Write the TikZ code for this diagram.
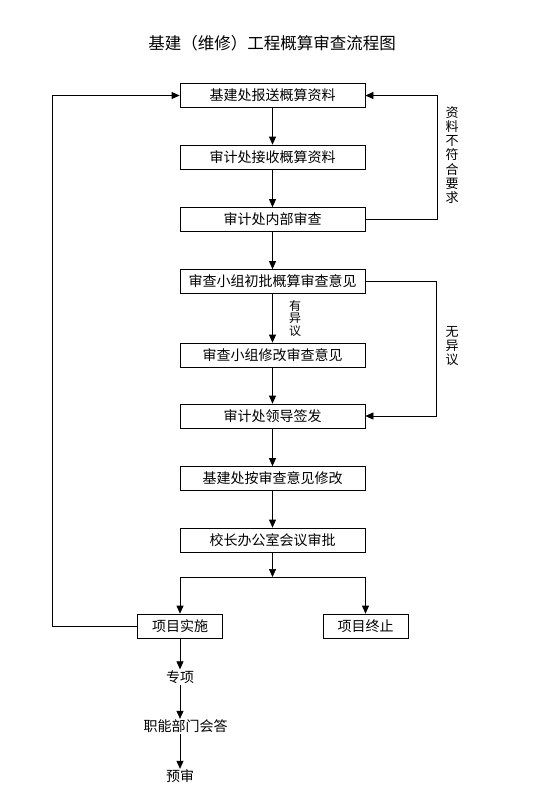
\documentclass[tikz,border=0pt]{standalone}
\usepackage{fontspec}
\setmainfont{Noto Sans CJK SC}
\usetikzlibrary{arrows.meta}
\tikzset{
  box/.style={draw, line width=0.7pt, minimum width=185pt, minimum height=24pt,
    inner sep=0pt, font=\fontsize{14}{15}\selectfont},
  smallbox/.style={box, minimum width=85pt},
  plain/.style={inner sep=1pt, font=\fontsize{14}{15}\selectfont},
  arr/.style={-{Triangle[length=8pt,width=7pt]}, line width=0.7pt},
  vlabel/.style={align=center, inner sep=0pt, font=\fontsize{13}{14.3}\selectfont}
}
\begin{document}
\begin{tikzpicture}[x=1pt,y=-1pt]
        \useasboundingbox (0,0) rectangle (544,811);
        \node[inner sep=0pt, font=\fontsize{16.5}{18}\selectfont] (title) at (272,43) {基建（维修）工程概算审查流程图};
        % main column
        \node[box] (send) at (272.5,95.5) {基建处报送概算资料};
        \node[box] (recv) at (272.5,157) {审计处接收概算资料};
        \node[box] (inner) at (272.5,219.5) {审计处内部审查};
        \node[box] (first) at (272.5,281.5) {审查小组初批概算审查意见};
        \node[box] (modify) at (272.5,355) {审查小组修改审查意见};
        \node[box] (sign) at (272.5,416) {审计处领导签发};
        \node[box] (revise) at (272.5,478.5) {基建处按审查意见修改};
        \node[box] (office) at (272.5,540) {校长办公室会议审批};
        \node[smallbox] (impl) at (180,626) {项目实施};
        \node[smallbox] (stop) at (365.5,626) {项目终止};
        \node[plain] (special) at (180,677) {专项};
        \node[plain] (dept) at (185.5,726.5) {职能部门会答};
        \node[plain] (pre) at (180,776.5) {预审};
        \coordinate (split) at (272.5,577);
        % side labels
        \node[vlabel] (notok) at (452,155) {资\\料\\不\\符\\合\\要\\求};
        \node[vlabel, font=\fontsize{12}{12.5}\selectfont] (objection) at (295,318) {有\\异\\议};
        \node[vlabel] (noobjection) at (452,346) {无\\异\\议};
        % arrows
        \draw[arr] (send) -- (recv);
        \draw[arr] (recv) -- (inner);
        \draw[arr] (inner) -- (first);
        \draw[arr] (first) -- (modify);
        \draw[arr] (modify) -- (sign);
        \draw[arr] (sign) -- (revise);
        \draw[arr] (revise) -- (office);
        \draw[arr] (office) -- (split);
        \draw[arr] (split) -| (impl.north);
        \draw[arr] (split) -| (stop.north);
        \draw[arr] (inner.east) -- ++(72,0) |- (send.east);
        \draw[arr] (first.east) -- ++(71,0) |- (sign.east);
        \draw[arr] (impl.west) -- ++(-85,0) |- (send.west);
        \draw[arr] (impl) -- (special);
        \draw[arr] (special.south) -- (special.south |- dept.north);
        \draw[arr] (pre.north |- dept.south) -- (pre.north);
\end{tikzpicture}
\end{document}
